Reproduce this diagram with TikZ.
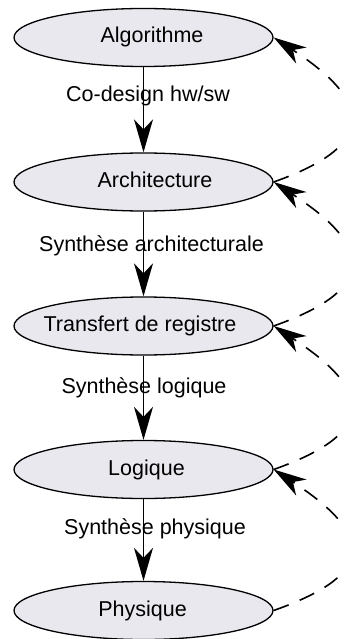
\documentclass[tikz,border=0pt]{standalone}
\usepackage{fontspec}
\setmainfont{Liberation Sans}
\usetikzlibrary{shapes.geometric,arrows.meta}
\definecolor{nodefill}{RGB}{232,232,238}
\begin{document}
\begin{tikzpicture}[x=1pt,y=-1pt,
  every node/.append style={font=\fontsize{21.5}{25}\selectfont},
  state/.style={ellipse, draw=black, line width=1.3pt, fill=nodefill,
    minimum width=259pt, minimum height=58pt, inner sep=0pt},
  txt/.style={inner sep=0pt, text height=15.5pt, text depth=4.5pt},
  flow/.style={line width=1.6pt, -{Stealth[length=33pt,width=19pt,inset=10pt]}},
  back/.style={line width=1.6pt, dash pattern=on 16pt off 12pt,
    -{Stealth[length=33pt,width=19pt,inset=10pt]}},
]
\useasboundingbox (0,0) rectangle (344,639);
% states
\node[state] (alg)   at (143.5,37.5)  {};
\node[state] (arch)  at (143.5,182)   {};
\node[state] (trans) at (143.5,326)   {};
\node[state] (log)   at (143.5,469.5) {};
\node[state] (phys)  at (143.5,610.5) {};
% state texts
\node[txt] (alg-t)   at ([xshift=8.5]alg)   {Algorithme};
\node[txt] (arch-t)  at ([xshift=11.5]arch) {Architecture};
\node[txt] (trans-t) at ([xshift=-3.5]trans) {Transfert de registre};
\node[txt] (log-t)   at ([xshift=3]log)     {Logique};
\node[txt] (phys-t)  at ([xshift=-1]phys)   {Physique};
% forward flow
\draw[flow] (alg) -- node[txt, pos=0.34, xshift=4.5] (l1) {Co-design hw/sw} (arch);
\draw[flow] (arch) -- node[txt, pos=0.41, xshift=8] (l2) {Synthèse architecturale} (trans);
\draw[flow] (trans) -- node[txt, pos=0.39, xshift=0.5] (l3) {Synthèse logique} (log);
\draw[flow] (log) -- node[txt, pos=0.36, xshift=11.5] (l4) {Synthèse physique} (phys);
% feedback
\draw[back] (arch.east)  .. controls +(93,-33) and +(109,71) .. (alg.east);
\draw[back] (trans.east) .. controls +(93,-33) and +(109,71) .. (arch.east);
\draw[back] (log.east)   .. controls +(93,-33) and +(109,71) .. (trans.east);
\draw[back] (phys.east)  .. controls +(93,-33) and +(109,71) .. (log.east);
\end{tikzpicture}
\end{document}
